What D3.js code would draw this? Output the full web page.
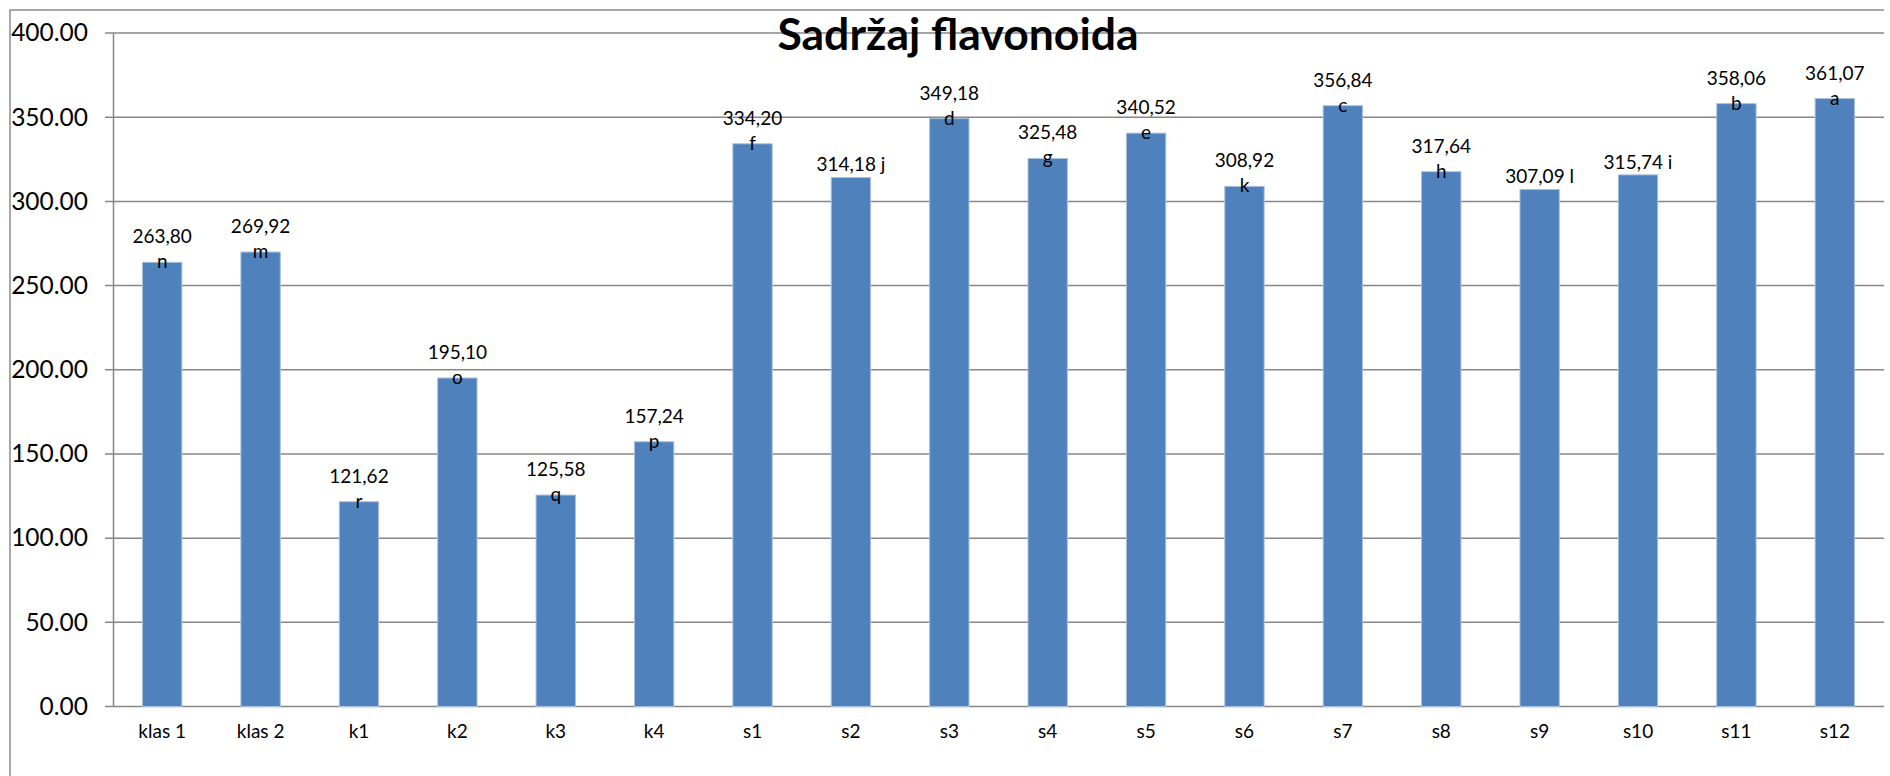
<!DOCTYPE html>
<html>
<head>
<meta charset="utf-8">
<script src="https://cdn.jsdelivr.net/npm/d3@7"></script>
<style>
  body { margin: 0; background: #fff; }
  text { font-family: Lato, "Open Sans", sans-serif; fill: #000; }
</style>
</head>
<body>
<div id="chart"></div>
<script>
const categories = ["klas 1", "klas 2", "k1", "k2", "k3", "k4", "s1", "s2", "s3", "s4", "s5", "s6", "s7", "s8", "s9", "s10", "s11", "s12"];
const values = [263.80, 269.92, 121.62, 195.10, 125.58, 157.24, 334.20, 314.18, 349.18, 325.48, 340.52, 308.92, 356.84, 317.64, 307.09, 315.74, 358.06, 361.07];
const letters = ["n", "m", "r", "o", "q", "p", "f", "j", "d", "g", "e", "k", "c", "h", "l", "i", "b", "a"];
// these labels sit on one line in the original
const oneLine = ["s2", "s9", "s10"];
const yTicks = [0, 50, 100, 150, 200, 250, 300, 350, 400];
const title = "Sadržaj flavonoida";

const data = categories.map((c, i) => ({ cat: c, value: values[i], letter: letters[i] }));

let svg = d3.select("#chart").append("svg")
  .attr("width", 1890)
  .attr("height", 776);

let plotLeft = 113, plotRight = 1884, plotTop = 33, plotBottom = 706.5;

let x = d3.scaleBand().domain(categories).range([plotLeft, plotRight]).paddingInner(0.6).paddingOuter(0.3);
let y = d3.scaleLinear().domain([0, 400]).range([plotBottom, plotTop]);

// outer chart frame (right and bottom edges fall outside the picture)
svg.append("path")
  .attr("d", "M" + plotRight + ",10H10V776")
  .attr("fill", "none")
  .attr("stroke", "#8c8c8c")
  .attr("stroke-width", 1.5);

// gridlines + y tick marks
svg.append("g").selectAll("line").data(yTicks).enter().append("line")
  .attr("x1", plotLeft - 8).attr("x2", plotRight)
  .attr("y1", d => y(d)).attr("y2", d => y(d))
  .attr("stroke", "#878787").attr("stroke-width", 1.5);

// y axis
let yAxis = svg.append("g")
  .attr("transform", "translate(" + plotLeft + ",0)")
  .call(d3.axisLeft(y).tickValues(yTicks).tickFormat(d3.format(".2f")).tickSize(0).tickPadding(25));
yAxis.select(".domain").attr("stroke", "#878787").attr("stroke-width", 1.5);
yAxis.selectAll("text").attr("font-size", 24.5).attr("font-family", null);

// x axis labels
let xAxis = svg.append("g")
  .attr("transform", "translate(0," + plotBottom + ")")
  .call(d3.axisBottom(x).tickSize(0).tickPadding(18));
xAxis.select(".domain").remove();
xAxis.selectAll("text").attr("font-size", 19).attr("font-family", null);

// bars
svg.append("g").selectAll("rect").data(data).enter().append("rect")
  .attr("x", d => x(d.cat))
  .attr("y", d => y(d.value))
  .attr("width", x.bandwidth())
  .attr("height", d => y(0) - y(d.value))
  .attr("fill", "#4f81bd")
  .attr("stroke", "#a9c0de")
  .attr("stroke-width", 1);

// data labels
let lbl = svg.append("g").attr("font-size", 19).attr("text-anchor", "middle");
data.forEach(d => {
  let cx = x(d.cat) + x.bandwidth() / 2;
  let ty = y(d.value);
  let v = d3.format(".2f")(d.value).replace(".", ",");
  if (oneLine.includes(d.cat)) {
    lbl.append("text").attr("x", cx).attr("y", ty - 6).text(v + " " + d.letter);
  } else {
    lbl.append("text").attr("x", cx).attr("y", ty - 19).text(v);
    lbl.append("text").attr("x", cx).attr("y", ty + 6).text(d.letter);
  }
});

// title
svg.append("text")
  .attr("x", 958)
  .attr("y", 50)
  .attr("text-anchor", "middle")
  .attr("font-size", 44.5)
  .attr("font-weight", "bold")
  .text(title);
</script>
</body>
</html>
